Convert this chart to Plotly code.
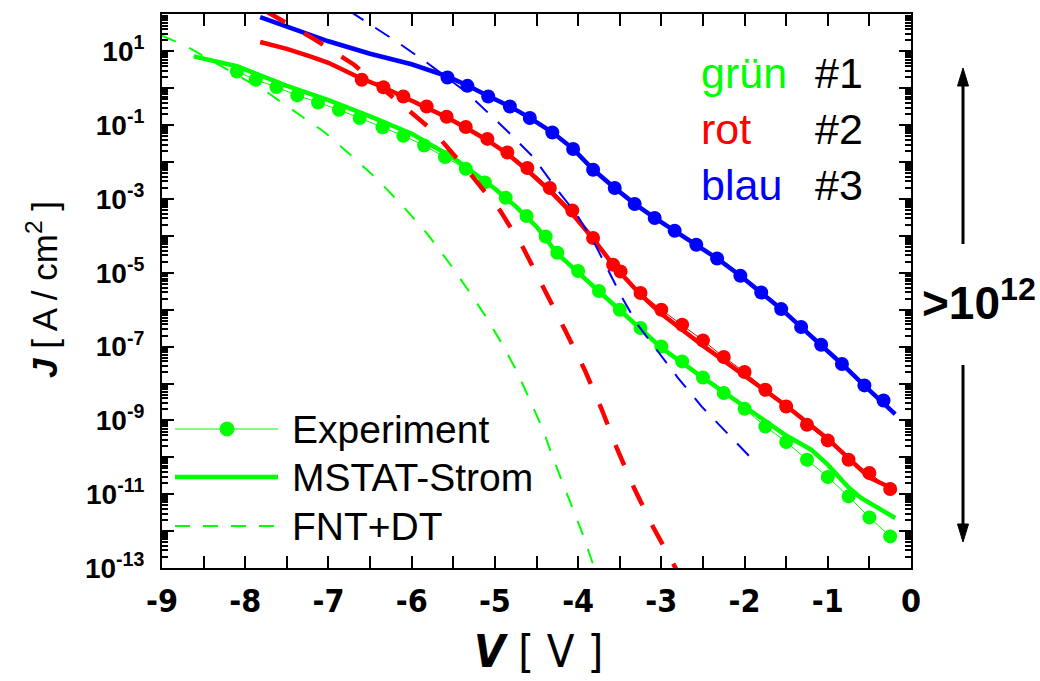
import plotly.graph_objects as go

# ---------------- data (V in volts, J in A/cm^2) ----------------
green_exp_v = [-8.1, -7.875, -7.625, -7.375, -7.125, -6.875, -6.625, -6.35, -6.1, -5.85, -5.6, -5.35,
               -5.12, -4.87, -4.62, -4.39, -4.25, -4.0, -3.75, -3.5, -3.25, -3.0, -2.75, -2.5, -2.25,
               -2.0, -1.75, -1.5, -1.25, -1.0, -0.75, -0.5, -0.25]
green_exp_j = [2.87e0, 1.71e0, 1.08e0, 6.43e-1, 4.15e-1, 2.63e-1, 1.57e-1, 8.83e-2, 5.19e-2, 2.82e-2,
               1.37e-2, 6.62e-3, 2.82e-3, 1.08e-3, 3.46e-4, 9.68e-5, 3.51e-5, 1.12e-5, 3.23e-6, 1.0e-6,
               3.19e-7, 1.01e-7, 3.97e-8, 1.46e-8, 5.53e-9, 2.07e-9, 6.87e-10, 2.60e-10, 8.61e-11,
               2.92e-11, 8.71e-12, 2.35e-12, 7.18e-13]

green_fit_v = [-8.62, -8.1, -7.5, -7.0, -6.5, -6.0, -5.5, -5.0, -4.75, -4.5, -4.25, -4.0, -3.75, -3.5,
               -3.0, -2.5, -2.0, -1.75, -1.5, -1.2, -1.0, -0.75, -0.6, -0.19]
green_fit_j = [7.33e0, 3.98e0, 1.17e0, 4.79e-1, 1.74e-1, 5.89e-2, 1.32e-2, 1.91e-3, 6.31e-4, 1.78e-4,
               3.31e-5, 1.02e-5, 3.02e-6, 9.33e-7, 9.33e-8, 1.44e-8, 2.40e-9, 9.33e-10, 3.89e-10,
               1.61e-10, 6.31e-11, 1.51e-11, 7.94e-12, 2.26e-12]

green_fnt_v = [-9.0, -8.72, -7.74, -7.41, -7.05, -6.76, -6.42, -6.11, -5.81, -5.56, -5.33, -5.11, -4.92,
               -4.74, -4.58, -4.42, -4.31, -4.19, -4.07, -3.95, -3.83, -3.80]
green_fnt_j = [2.69e1, 1.43e1, 7.94e-1, 2.47e-1, 6.55e-2, 1.77e-2, 3.55e-3, 6.61e-4, 1.12e-4, 2.00e-5,
               3.64e-6, 6.58e-7, 1.25e-7, 2.24e-8, 3.63e-9, 5.58e-10, 1.06e-10, 2.14e-11, 4.23e-12,
               8.87e-13, 1.46e-13, 8.9e-14]

red_exp_v = [-6.6, -6.34, -6.1, -5.82, -5.58, -5.35, -5.09, -4.85, -4.61, -4.34, -4.07, -3.82, -3.58,
             -3.49, -3.25, -3.0, -2.75, -2.5, -2.25, -2.0, -1.75, -1.5, -1.25, -1.0, -0.75, -0.5, -0.25]
red_exp_j = [1.71e0, 1.07e0, 6.03e-1, 3.23e-1, 1.70e-1, 8.93e-2, 4.26e-2, 1.83e-2, 6.92e-3, 1.99e-3,
             4.91e-4, 8.77e-5, 1.66e-5, 1.09e-5, 2.84e-6, 1.00e-6, 3.93e-7, 1.47e-7, 5.22e-8, 2.05e-8,
             6.79e-9, 2.39e-9, 7.64e-10, 2.87e-10, 8.61e-11, 3.76e-11, 1.38e-11]

red_fit_v = [-7.82, -7.5, -7.22, -7.0, -6.62, -6.34, -6.1, -5.83, -5.58, -5.35, -5.09, -4.85, -4.61,
             -4.34, -4.07, -3.82, -3.58, -3.25, -3.0, -2.5, -2.0, -1.5, -1.0, -0.75, -0.5, -0.19]
red_fit_j = [1.80e1, 1.18e1, 7.33e0, 4.94e0, 1.90e0, 1.07e0, 5.92e-1, 3.17e-1, 1.65e-1, 8.55e-2,
             3.92e-2, 1.69e-2, 6.03e-3, 1.68e-3, 4.00e-4, 8.39e-5, 1.66e-5, 2.55e-6, 7.80e-7, 1.06e-7,
             1.63e-8, 2.50e-9, 3.16e-10, 9.16e-11, 2.80e-11, 1.32e-11]

red_fnt_v = [-7.75, -7.628, -7.172, -6.692, -5.740, -5.300, -4.939, -4.659, -4.399, -4.159, -3.922,
             -3.718, -3.531, -3.322, -3.099, -2.858, -2.78]
red_fnt_j = [1.23e2, 8.55e1, 2.17e1, 4.37e0, 6.97e-2, 4.94e-3, 4.91e-4, 4.70e-5, 3.48e-6, 2.86e-7,
             2.37e-8, 2.04e-9, 1.68e-10, 1.38e-11, 1.29e-12, 1.37e-13, 6.3e-14]

blue_exp_v = [-5.57, -5.33, -5.08, -4.82, -4.58, -4.31, -4.06, -3.82, -3.56, -3.32, -3.08, -2.84,
              -2.58, -2.33, -2.05, -1.80, -1.56, -1.32, -1.08, -0.83, -0.56, -0.33]
blue_exp_j = [1.97e0, 1.17e0, 6.03e-1, 3.23e-1, 1.57e-1, 6.38e-2, 2.26e-2, 6.22e-3, 1.99e-3, 7.31e-4,
              3.05e-4, 1.38e-4, 5.78e-5, 2.44e-5, 8.34e-6, 2.94e-6, 1.04e-6, 3.40e-7, 1.12e-7,
              3.37e-8, 8.89e-9, 3.48e-9]

blue_fit_v = [-7.82, -7.0, -6.5, -6.0, -5.57, -5.33, -5.08, -4.82, -4.58, -4.31, -4.06, -3.82, -3.56,
              -3.32, -3.08, -2.84, -2.58, -2.33, -2.05, -1.80, -1.56, -1.32, -1.08, -0.83, -0.56,
              -0.33, -0.19]
blue_fit_j = [8.55e1, 1.89e1, 8.67e0, 4.50e0, 2.10e0, 1.20e0, 6.17e-1, 3.24e-1, 1.58e-1, 6.46e-2,
              2.29e-2, 6.31e-3, 2.00e-3, 7.41e-4, 3.09e-4, 1.38e-4, 5.75e-5, 2.45e-5, 8.32e-6, 2.95e-6,
              1.05e-6, 3.39e-7, 1.12e-7, 3.39e-8, 8.71e-9, 3.02e-9, 1.48e-9]

blue_fnt_v = [-6.75, -6.641, -6.161, -5.815, -5.335, -4.855, -4.543, -4.279, -4.015, -3.823, -3.655,
              -3.475, -3.283, -3.055, -2.803, -2.515, -2.215, -1.891]
blue_fnt_j = [1.26e2, 8.71e1, 1.72e1, 4.94e0, 7.60e-1, 7.10e-2, 1.40e-2, 2.15e-3, 3.75e-4, 7.71e-5,
              1.35e-5, 2.21e-6, 3.89e-7, 8.32e-8, 1.45e-8, 2.36e-9, 4.68e-10, 8.13e-11]

x_tick_vals = [-9, -8, -7, -6, -5, -4, -3, -2, -1, 0]
x_tick_text = ["-9", "-8", "-7", "-6", "-5", "-4", "-3", "-2", "-1", "0"]
y_label_exps = [1, -1, -3, -5, -7, -9, -11, -13]          # labelled decades
y_unlabelled_exps = [2, 0, -2, -4, -6, -8, -10, -12]      # decade ticks without labels
y_tick_text = ["10<sup>%d</sup>" % e for e in y_label_exps]

legend_labels = ["Experiment", "MSTAT-Strom", "FNT+DT"]
sample_names = [("grün", "#1"), ("rot", "#2"), ("blau", "#3")]
ratio_text = "&gt;10<sup>12</sup>"

# ---------------- layout geometry ----------------
W, H = 1040, 681
L, R, T, B = 162, 129, 14, 113
PW, PH = W - L - R, H - T - B


def px(x):
    return (x - L) / PW


def py(y):
    return (H - B - y) / PH


GREEN, RED, BLUE = "#00FF00", "#FF0000", "#0000FF"
colors = [GREEN, RED, BLUE]
series = [
    (green_exp_v, green_exp_j, green_fit_v, green_fit_j, green_fnt_v, green_fnt_j, 2, "15px,15px"),
    (red_exp_v, red_exp_j, red_fit_v, red_fit_j, red_fnt_v, red_fnt_j, 4.5, "22px,22px"),
    (blue_exp_v, blue_exp_j, blue_fit_v, blue_fit_j, blue_fnt_v, blue_fnt_j, 2, "17px,14px"),
]

fig = go.Figure()
for c, s in zip(colors, series):      # MSTAT curves
    fig.add_trace(go.Scatter(x=s[2], y=s[3], mode="lines", line=dict(color=c, width=4.5),
                             showlegend=False, hoverinfo="skip"))
for c, s in zip(colors, series):      # experiment
    fig.add_trace(go.Scatter(x=s[0], y=s[1], mode="lines+markers", line=dict(color=c, width=1),
                             marker=dict(color=c, size=14), showlegend=False, hoverinfo="skip"))
for c, s in zip(colors, series):      # FNT+DT
    fig.add_trace(go.Scatter(x=s[4], y=s[5], mode="lines", line=dict(color=c, width=s[6], dash=s[7]),
                             showlegend=False, hoverinfo="skip"))

y_minor = [k * 10.0 ** e for e in range(-13, 2) for k in range(2, 10)]
YRANGE = [-13, 2.015]

fig.update_xaxes(
    range=[-9, 0], tickmode="array", tickvals=x_tick_vals,
    ticktext=["<b>%s</b>" % t for t in x_tick_text],
    ticks="inside", ticklen=12, tickwidth=2, tickcolor="black",
    minor=dict(dtick=0.5, tick0=0, ticks="inside", ticklen=6, tickwidth=2, tickcolor="black", showgrid=False),
    showline=True, linewidth=2, linecolor="black", mirror="allticks",
    showgrid=False, zeroline=False, ticklabelstandoff=4,
    tickfont=dict(family="Liberation Sans Narrow, DejaVu Sans Condensed, Arial Narrow, sans-serif",
                  size=32, color="black"),
)
fig.update_layout(yaxis=dict(
    type="log", range=YRANGE, tickmode="array",
    tickvals=[10.0 ** e for e in y_label_exps],
    ticktext=["<b>%s</b>" % t for t in y_tick_text],
    ticks="inside", ticklen=12, tickwidth=2, tickcolor="black",
    minor=dict(tickmode="array", tickvals=y_minor, ticks="inside", ticklen=6, tickwidth=1.5,
               tickcolor="black", showgrid=False),
    showline=True, linewidth=2, linecolor="black", mirror="allticks",
    showgrid=False, zeroline=False, ticklabelstandoff=10,
    tickfont=dict(family="Liberation Sans, Arial, sans-serif", size=28, color="black"),
), yaxis2=dict(
    type="log", range=YRANGE, overlaying="y", side="left", tickmode="array",
    tickvals=[10.0 ** e for e in y_unlabelled_exps], showticklabels=False,
    ticks="inside", ticklen=12, tickwidth=2, tickcolor="black",
    showline=True, linewidth=2, linecolor="black", mirror="allticks",
    showgrid=False, zeroline=False,
))
# invisible helper trace so the overlay axis is drawn
fig.add_trace(go.Scatter(x=[-9], y=[1e-13], yaxis="y2", mode="markers", marker=dict(opacity=0),
                         showlegend=False, hoverinfo="skip"))

annotations = []
shapes = []
# axis titles
annotations.append(dict(text="<b><i>V</i></b> [ V ]", xref="paper", yref="paper", x=px(538), y=py(651),
                        showarrow=False, xanchor="center", yanchor="middle",
                        font=dict(family="Liberation Sans Narrow, DejaVu Sans Condensed, sans-serif",
                                  size=45, color="black")))
annotations.append(dict(text="<b><i>J</i></b> [ A / cm<sup>2</sup> ]", xref="paper", yref="paper",
                        x=px(42), y=py(290), textangle=-90, showarrow=False,
                        xanchor="center", yanchor="middle",
                        font=dict(family="Liberation Sans, Arial, sans-serif", size=35, color="black")))
# sample annotations
for i, ((nm, num), c) in enumerate(zip(sample_names, colors)):
    yc = 73 + 56 * i
    annotations.append(dict(text=nm, xref="paper", yref="paper", x=px(699), y=py(yc), showarrow=False,
                            xanchor="left", yanchor="middle",
                            font=dict(family="Liberation Sans, Arial, sans-serif", size=43, color=c)))
    annotations.append(dict(text=num, xref="paper", yref="paper", x=px(813), y=py(yc), showarrow=False,
                            xanchor="left", yanchor="middle",
                            font=dict(family="Liberation Sans, Arial, sans-serif", size=43, color="black")))
# >10^12 and arrows
annotations.append(dict(text="<b>%s</b>" % ratio_text, xref="paper", yref="paper", x=px(920), y=py(300),
                        showarrow=False, xanchor="left", yanchor="middle",
                        font=dict(family="Liberation Sans, Arial, sans-serif", size=46, color="black")))
AX = 963
for (y_tip, y_base, y_end) in [(68, 86, 244), (542, 524, 365)]:
    shapes.append(dict(type="line", xref="paper", yref="paper", x0=px(AX), x1=px(AX),
                       y0=py(y_base), y1=py(y_end), line=dict(color="black", width=3)))
    shapes.append(dict(type="path", xref="paper", yref="paper",
                       path="M %f %f L %f %f L %f %f Z" % (px(AX), py(y_tip), px(AX - 5.5), py(y_base),
                                                            px(AX + 5.5), py(y_base)),
                       fillcolor="black", line=dict(color="black", width=1)))

# custom legend (green samples)
leg_rows = [429, 477, 526]
leg_styles = [dict(width=1, dash="solid"), dict(width=4.5, dash="solid"), dict(width=2, dash="15px,13px")]
for lbl, yr, st in zip(legend_labels, leg_rows, leg_styles):
    shapes.append(dict(type="line", xref="paper", yref="paper", x0=px(175), x1=px(278), y0=py(yr), y1=py(yr),
                       line=dict(color=GREEN, width=st["width"], dash=st["dash"])))
    annotations.append(dict(text=lbl, xref="paper", yref="paper", x=px(290), y=py(yr + 0.5), showarrow=False,
                            xanchor="left", yanchor="middle",
                            font=dict(family="Liberation Sans, Arial, sans-serif", size=39, color="black")))
shapes.append(dict(type="circle", xref="paper", yref="paper", x0=px(220), x1=px(234), y0=py(422), y1=py(436),
                   fillcolor=GREEN, line=dict(color=GREEN, width=1)))

fig.update_layout(
    width=W, height=H, margin=dict(l=L, r=R, t=T, b=B, autoexpand=False),
    paper_bgcolor="white", plot_bgcolor="white", showlegend=False,
    annotations=annotations, shapes=shapes,
    font=dict(family="Liberation Sans, Arial, sans-serif", color="black"),
)

fig.write_html("out.html")
